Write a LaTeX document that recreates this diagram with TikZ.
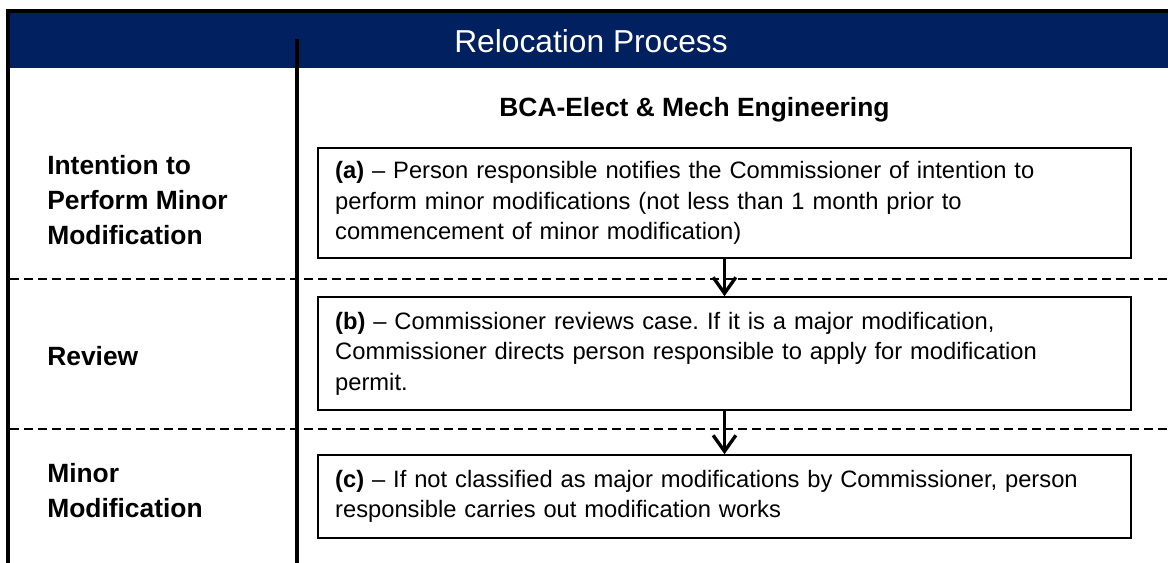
\documentclass[tikz,border=0pt]{standalone}
\usepackage{fontspec}
\setmainfont{Liberation Sans}
\usetikzlibrary{arrows.meta}
\definecolor{navy}{RGB}{0,32,96}
\frenchspacing
\begin{document}
\begin{tikzpicture}[x=0.75pt,y=-0.75pt,
  box/.style={draw=black, line width=1.2pt, fill=white, minimum width=609.75pt,
    text width=584pt, inner xsep=12.5pt, inner ysep=0pt, align=left,
    font=\fontsize{17.8pt}{22.9pt}\selectfont},
  lane/.style={anchor=base west, inner sep=0pt, align=left,
    font=\fontsize{19.8pt}{26.25pt}\selectfont\bfseries},
  sepline/.style={line width=1.5pt, dash pattern=on 6.75pt off 3.75pt},
  border/.style={line width=3pt},
  flow/.style={line width=2.5pt, -{Straight Barb[length=12pt,width=17pt]}}
]
\useasboundingbox (0,0) rectangle (1168,563);
\fill[white] (0,0) rectangle (1168,563);
\fill[navy] (10,13) rectangle (1168,68);
\node[anchor=base, text=white, inner sep=0pt, font=\fontsize{23.8pt}{28pt}\selectfont] (title) at (591,53) {Relocation Process};
\draw[sepline] (10,279) -- (1168,279);
\draw[sepline] (10,429) -- (1168,429);
\draw[border] (6,11) -- (1168,11);
\draw[border] (8,9) -- (8,563);
\draw[border] (297,39) -- (297,563);
\node[anchor=base, inner sep=0pt, font=\fontsize{19.8pt}{24pt}\selectfont\bfseries] (org) at (694.5,117) {BCA-Elect \& Mech Engineering};
\node[box, minimum height=82.5pt] (a) at (724.5,203) {\textbf{(a)} – Person responsible notifies the Commissioner of intention to\\perform minor modifications (not less than 1 month prior to\\commencement of minor modification)};
\node[box, minimum height=84.75pt] (b) at (724.5,353.5) {\textbf{(b)} – Commissioner reviews case. If it is a major modification,\\Commissioner directs person responsible to apply for modification\\permit.};
\node[box, minimum height=62.25pt] (c) at (724.5,496.5) {\textbf{(c)} – If not classified as major modifications by Commissioner, person\\responsible carries out modification works};
\draw[flow] (a) -- (b);
\draw[flow] (b) -- (c);
\node[lane] (l1) at (47,244) {Intention to\\Perform Minor\\Modification};
\node[lane] (l2) at (47,365) {Review};
\node[lane] (l3) at (47,517) {Minor\\Modification};
\end{tikzpicture}
\end{document}
